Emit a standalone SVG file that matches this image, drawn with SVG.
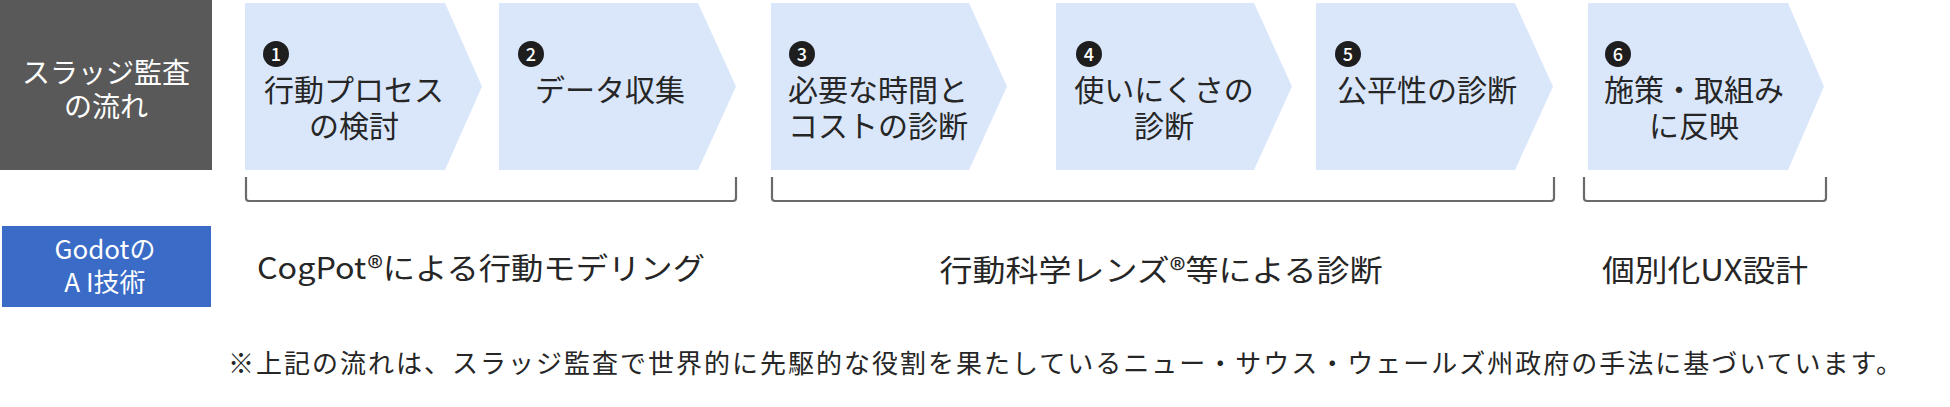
<svg xmlns="http://www.w3.org/2000/svg" width="1950" height="407" viewBox="0 0 1950 407">
<style>
text{font-family:"Noto Sans CJK JP","Noto Sans",sans-serif;}
.chev{fill:#dae7fb;}
.lbl{font-size:30px;fill:#262626;text-anchor:middle;}
.num{fill:#1e1e1e;}
.numt{font-size:18px;fill:#ffffff;text-anchor:middle;font-weight:500;}
.hdr{font-size:28px;fill:#ffffff;text-anchor:middle;}
.ai{font-size:26px;fill:#ffffff;text-anchor:middle;}
.tech{font-size:30px;fill:#262626;text-anchor:middle;}
.br{fill:none;stroke:#6a6a6a;stroke-width:2.2;}
.note{font-size:26px;fill:#262626;}
</style>
<rect width="1950" height="407" fill="#ffffff"/>
<g id="header-flow">
<rect x="0" y="0" width="212" height="170" fill="#595959"/>
<text class="hdr" x="106" y="83">スラッジ監査</text>
<text class="hdr" x="106" y="117">の流れ</text>
</g>
<g id="step1">
<polygon class="chev" points="245,3 445,3 482,86.5 445,170 245,170"/>
<circle class="num" cx="276" cy="54" r="13"/>
<text class="numt" x="276" y="60.5">1</text>
<text class="lbl" x="354" y="101">行動プロセス</text>
<text class="lbl" x="354" y="137">の検討</text>
</g>
<g id="step2">
<polygon class="chev" points="499,3 698,3 736,86.5 698,170 499,170"/>
<circle class="num" cx="531" cy="54" r="13"/>
<text class="numt" x="531" y="60.5">2</text>
<text class="lbl" x="610" y="101">データ収集</text>
</g>
<g id="step3">
<polygon class="chev" points="771,3 969,3 1007,86.5 969,170 771,170"/>
<circle class="num" cx="802" cy="54" r="13"/>
<text class="numt" x="802" y="60.5">3</text>
<text class="lbl" x="878" y="101">必要な時間と</text>
<text class="lbl" x="878" y="137">コストの診断</text>
</g>
<g id="step4">
<polygon class="chev" points="1056,3 1254,3 1292,86.5 1254,170 1056,170"/>
<circle class="num" cx="1089" cy="54" r="13"/>
<text class="numt" x="1089" y="60.5">4</text>
<text class="lbl" x="1164" y="101">使いにくさの</text>
<text class="lbl" x="1164" y="137">診断</text>
</g>
<g id="step5">
<polygon class="chev" points="1316,3 1515,3 1553,86.5 1515,170 1316,170"/>
<circle class="num" cx="1348" cy="54" r="13"/>
<text class="numt" x="1348" y="60.5">5</text>
<text class="lbl" x="1427" y="101">公平性の診断</text>
</g>
<g id="step6">
<polygon class="chev" points="1588,3 1788,3 1824,86.5 1788,170 1588,170"/>
<circle class="num" cx="1618" cy="54" r="13"/>
<text class="numt" x="1618" y="60.5">6</text>
<text class="lbl" x="1694" y="101">施策・取組み</text>
<text class="lbl" x="1694" y="137">に反映</text>
</g>
<g id="brackets">
<path class="br" d="M246,177 V198 Q246,201 249,201 H733 Q736,201 736,198 V177"/>
<path class="br" d="M772,177 V198 Q772,201 775,201 H1551 Q1554,201 1554,198 V177"/>
<path class="br" d="M1584,177 V198 Q1584,201 1587,201 H1823 Q1826,201 1826,198 V177"/>
</g>
<g id="header-ai">
<rect x="2" y="226" width="209" height="81" fill="#3a6bc6"/>
<text class="ai" x="105" y="259">Godotの</text>
<text class="ai" x="105" y="292">A I技術</text>
</g>
<g id="tech1">
<text class="tech" x="481" y="279" textLength="448" lengthAdjust="spacingAndGlyphs">CogPot®による行動モデリング</text>
</g>
<g id="tech2">
<text class="tech" x="1161" y="281" textLength="443" lengthAdjust="spacingAndGlyphs">行動科学レンズ®等による診断</text>
</g>
<g id="tech3">
<text class="tech" x="1705" y="281" textLength="206" lengthAdjust="spacingAndGlyphs">個別化UX設計</text>
</g>
<g id="footnote">
<text class="note" x="228" y="373" textLength="1674" lengthAdjust="spacing">※上記の流れは、スラッジ監査で世界的に先駆的な役割を果たしているニュー・サウス・ウェールズ州政府の手法に基づいています。</text>
</g>
</svg>
